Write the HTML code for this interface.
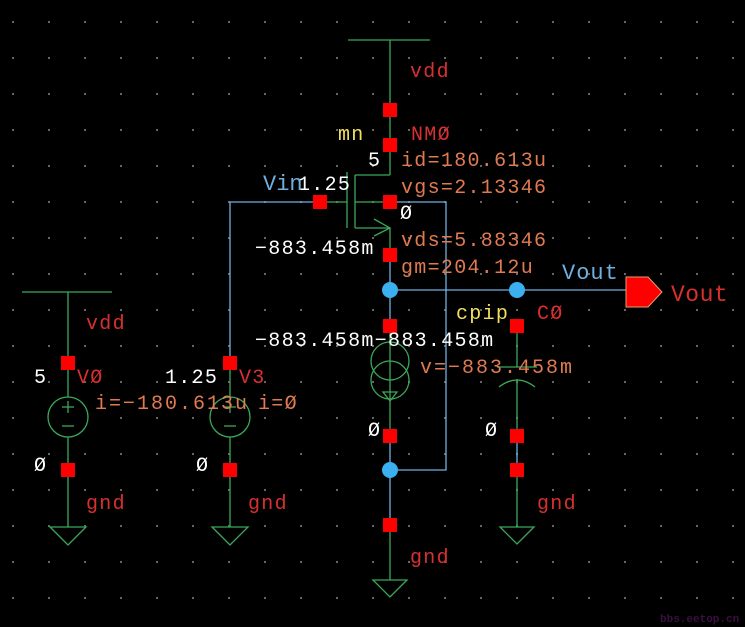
<!DOCTYPE html>
<html><head><meta charset="utf-8"><style>
html,body{margin:0;padding:0;background:#000;}
svg{display:block;}
text{font-family:"Liberation Mono",monospace;font-size:20px;letter-spacing:1.3px;}
</style></head><body>
<svg width="745" height="627" viewBox="0 0 745 627" xmlns="http://www.w3.org/2000/svg">
<defs>
<pattern id="g" x="12" y="21" width="36" height="36" patternUnits="userSpaceOnUse">
<rect x="0" y="0" width="2" height="2" fill="#666"/>
</pattern>
</defs>
<rect width="745" height="627" fill="#000"/>
<rect width="745" height="627" fill="url(#g)"/>

<g stroke="#3aa85a" stroke-width="1.3" fill="none">
<line x1="348" y1="40" x2="430" y2="40"/>
<line x1="390" y1="40" x2="390" y2="175"/>
<line x1="355" y1="175" x2="390" y2="175"/>
<line x1="355" y1="175" x2="355" y2="228"/>
<line x1="347" y1="172" x2="347" y2="228"/>
<line x1="320" y1="202" x2="347" y2="202"/>
<line x1="355" y1="202" x2="390" y2="202"/>
<line x1="355" y1="228" x2="390" y2="228"/>
<polyline points="374,219 390,228 374,236"/>
<line x1="390" y1="228" x2="390" y2="255"/>
<line x1="390" y1="326" x2="390" y2="436"/>
<circle cx="390" cy="361" r="19"/>
<circle cx="390" cy="380" r="19"/>
<polygon points="383,392 397,392 390,401"/>
<line x1="390" y1="525" x2="390" y2="580"/>
<polygon points="373,580 407,580 390,597"/>
<line x1="517" y1="326" x2="517" y2="367"/>
<line x1="497" y1="367" x2="537" y2="367"/>
<path d="M499,387 Q517,373 535,387"/>
<line x1="517" y1="379" x2="517" y2="436"/>
<line x1="517" y1="470" x2="517" y2="527"/>
<polygon points="500,527 534,527 517,544"/>
<line x1="22" y1="292" x2="112" y2="292"/>
<line x1="68" y1="292" x2="68" y2="527"/>
<circle cx="68" cy="417" r="20" fill="#000"/>
<line x1="62" y1="407" x2="74" y2="407"/><line x1="68" y1="401" x2="68" y2="413"/>
<line x1="62" y1="426" x2="74" y2="426"/>
<polygon points="50,527 86,527 68,545"/>
<line x1="230" y1="363" x2="230" y2="527"/>
<circle cx="230" cy="417" r="20" fill="#000"/>
<line x1="224" y1="407" x2="236" y2="407"/><line x1="230" y1="401" x2="230" y2="413"/>
<line x1="224" y1="426" x2="236" y2="426"/>
<polygon points="212,527 248,527 230,545"/>
</g>

<g stroke="#6fb0e0" stroke-width="1.3" fill="none">
<polyline points="320,202 230,202 230,363"/>
<polyline points="390,202 446,202 446,470 390,470"/>
<line x1="390" y1="255" x2="390" y2="326"/>
<line x1="390" y1="290" x2="628" y2="290"/>
<line x1="390" y1="436" x2="390" y2="525"/>
<line x1="517" y1="436" x2="517" y2="470"/>
</g>

<g fill="#3ab0f0">
<circle cx="390" cy="290" r="8"/><circle cx="517" cy="290" r="8"/><circle cx="390" cy="470" r="8"/>
</g>

<polygon points="626,277 648,277 662,292 648,307 626,307" fill="#ff0000" stroke="#e0a070" stroke-width="1"/>

<g fill="#ff0000">
<rect x="383" y="103" width="14" height="14"/>
<rect x="383" y="138" width="14" height="14"/>
<rect x="313" y="195" width="14" height="14"/>
<rect x="383" y="195" width="14" height="14"/>
<rect x="383" y="248" width="14" height="14"/>
<rect x="383" y="319" width="14" height="14"/>
<rect x="383" y="429" width="14" height="14"/>
<rect x="383" y="518" width="14" height="14"/>
<rect x="510" y="319" width="14" height="14"/>
<rect x="510" y="429" width="14" height="14"/>
<rect x="510" y="463" width="14" height="14"/>
<rect x="61" y="356" width="14" height="14"/>
<rect x="61" y="463" width="14" height="14"/>
<rect x="223" y="356" width="14" height="14"/>
<rect x="223" y="463" width="14" height="14"/>
</g>

<g fill="#d83030">
<text x="410" y="77">vdd</text>
<text x="411" y="140">NMØ</text>
<text x="86" y="329">vdd</text>
<text x="77" y="383">VØ</text>
<text x="239" y="383">V3</text>
<text x="86" y="509">gnd</text>
<text x="248" y="509">gnd</text>
<text x="410" y="563">gnd</text>
<text x="537" y="509">gnd</text>
<text x="537" y="319">CØ</text>
<text x="671" y="301" style="font-size:23px;letter-spacing:0.5px">Vout</text>
</g>
<g fill="#e07a50">
<text x="401" y="166">id=180.613u</text>
<text x="401" y="193">vgs=2.13346</text>
<text x="401" y="246">vds=5.88346</text>
<text x="401" y="273">gm=204.12u</text>
<text x="95" y="409" style="letter-spacing:2px">i=−180.613u</text>
<text x="258" y="409">i=Ø</text>
<text x="420" y="373" style="letter-spacing:2px">v=−883.458m</text>
</g>
<g fill="#ffffff">
<text x="368" y="166">5</text>
<text x="298" y="190">1.25</text>
<text x="400" y="219">Ø</text>
<text x="255" y="254">−883.458m</text>
<text x="255" y="346">−883.458m−883.458m</text>
<text x="34" y="383">5</text>
<text x="165" y="383">1.25</text>
<text x="34" y="471">Ø</text>
<text x="196" y="471">Ø</text>
<text x="368" y="436">Ø</text>
<text x="485" y="436">Ø</text>
</g>
<g fill="#f0e060">
<text x="338" y="140">mn</text>
<text x="456" y="319">cpip</text>
</g>
<g fill="#6fb0e0">
<text x="263" y="190" style="font-size:22px;letter-spacing:0px">Vin</text>
<text x="562" y="279" style="font-size:22px;letter-spacing:1px">Vout</text>
</g>
<text x="660" y="622" fill="#3a1040" style="font-size:11px;font-weight:bold;letter-spacing:0px">bbs.eetop.cn</text>
</svg>
</body></html>
